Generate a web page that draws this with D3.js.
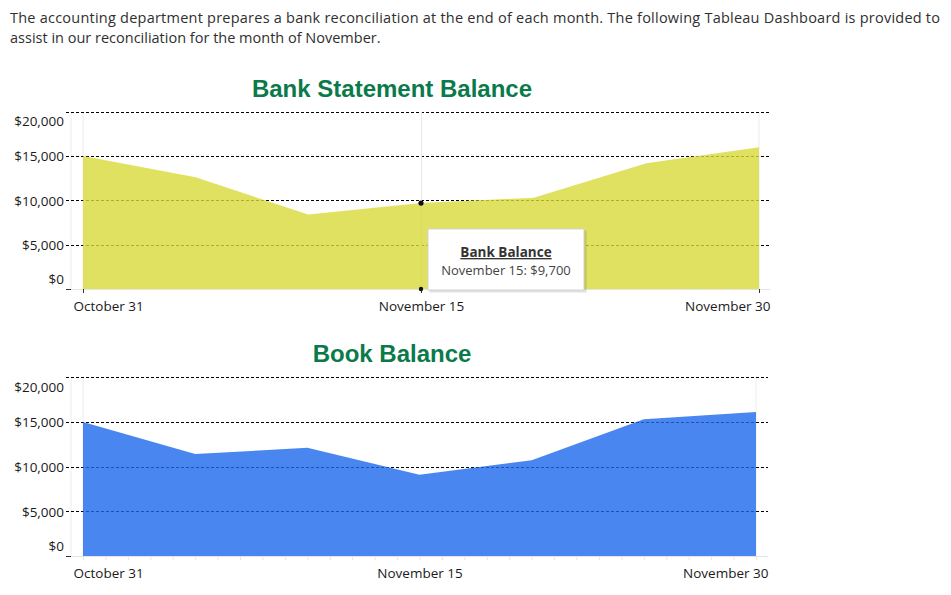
<!DOCTYPE html>
<html>
<head>
<meta charset="utf-8">
<script src="https://cdn.jsdelivr.net/npm/d3@7"></script>
<style>
  body { margin: 0; background: #fff; }
  .intro { font-family: "Open Sans", sans-serif; font-size: 14.5px; fill: #2f2f2f; }
  .title { font-family: "Liberation Sans", Arial, sans-serif; font-weight: bold; font-size: 24px; fill: #0b7a4b; }
  .tick text { font-family: "Open Sans", sans-serif; font-size: 13.5px; fill: #1a1a1a; }
</style>
</head>
<body>
<svg id="dash" width="951" height="595"></svg>
<script>
// dates in the month (every 5 days)
var dates = ["2018-10-31", "2018-11-05", "2018-11-10", "2018-11-15", "2018-11-20", "2018-11-25", "2018-11-30"];
var bankBalance = [15000, 12600, 8400, 9700, 10300, 14200, 16000];
var bookBalance = [15000, 11400, 12100, 9100, 10700, 15300, 16100];
var yTicks = [0, 5000, 10000, 15000, 20000];
var xTickDates = ["2018-10-31", "2018-11-15", "2018-11-30"];
var hoverDate = "2018-11-15";

var parse = d3.timeParse("%Y-%m-%d");
var svg = d3.select("#dash");

// intro paragraph
svg.append("text").attr("class", "intro").attr("x", 10).attr("y", 23)
  .attr("textLength", 930).attr("lengthAdjust", "spacing")
  .text("The accounting department prepares a bank reconciliation at the end of each month. The following Tableau Dashboard is provided to");
svg.append("text").attr("class", "intro").attr("x", 10).attr("y", 43)
  .text("assist in our reconciliation for the month of November.");

function drawChart(opt) {
  var data = dates.map(function(d, i) { return { date: parse(d), value: opt.values[i] }; });
  var x = d3.scaleTime().domain([parse(dates[0]), parse(dates[dates.length - 1])]).range([83, opt.right]);
  var y = d3.scaleLinear().domain([0, 20000]).range([opt.bottom, opt.bottom - 4 * opt.step]);
  var g = svg.append("g");

  g.append("text").attr("class", "title").attr("x", 392).attr("y", opt.titleY)
    .attr("text-anchor", "middle").text(opt.title);

  // faint frame lines
  g.append("line").attr("x1", 71).attr("x2", 71).attr("y1", y(20000)).attr("y2", opt.bottom)
    .attr("stroke", "#ececec");
  [x.range()[0], x.range()[1]].forEach(function(px) {
    g.append("line").attr("x1", px).attr("x2", px).attr("y1", y(20000)).attr("y2", opt.bottom)
      .attr("stroke", "#ececec");
  });
  g.append("line").attr("x1", 66).attr("x2", opt.gridEnd).attr("y1", opt.bottom + 0.5).attr("y2", opt.bottom + 0.5)
    .attr("stroke", "#e4e4e4");

  // dashed gridlines (under the area)
  g.selectAll(".grid").data(yTicks.slice(1)).join("line")
    .attr("x1", 66).attr("x2", opt.gridEnd)
    .attr("y1", function(d) { return Math.round(y(d)) + 0.5; })
    .attr("y2", function(d) { return Math.round(y(d)) + 0.5; })
    .attr("stroke", "#000").attr("stroke-dasharray", "3,2");

  if (opt.hover) {
    g.append("line").attr("x1", x(parse(hoverDate)) + 0.5).attr("x2", x(parse(hoverDate)) + 0.5)
      .attr("y1", y(20000)).attr("y2", opt.bottom).attr("stroke", "#e8e8e8");
  }

  var area = d3.area().x(function(d) { return x(d.date); })
    .y0(y(0)).y1(function(d) { return y(d.value); });
  g.append("path").datum(data).attr("d", area)
    .attr("fill", opt.fill).attr("fill-opacity", 0.8);

  // y axis labels
  var yAxis = d3.axisLeft(y).tickValues(yTicks).tickSize(0).tickPadding(0)
    .tickFormat(function(d) { return "$" + d3.format(",")(d); });
  var ya = g.append("g").attr("transform", "translate(64,0)").call(yAxis);
  ya.select(".domain").remove();
  ya.selectAll(".tick text").attr("dy", function(d) {
    return d === 20000 ? "1.05em" : d === 0 ? "-0.4em" : "0.35em";
  });
  // little tick for $0
  g.append("line").attr("x1", 66).attr("x2", 71).attr("y1", opt.bottom + 0.5).attr("y2", opt.bottom + 0.5)
    .attr("stroke", "#333");

  // x axis
  if (opt.minorTicks) {
    var minor = d3.axisBottom(x).ticks(d3.timeDay.every(1)).tickSize(4).tickFormat("");
    var mi = g.append("g").attr("transform", "translate(0," + opt.bottom + ")").call(minor);
    mi.select(".domain").remove();
    mi.selectAll(".tick line").attr("stroke", "#e6e6e6");
  }
  var xAxis = d3.axisBottom(x).tickValues(xTickDates.map(parse))
    .tickSize(opt.minorTicks ? 0 : 4).tickPadding(opt.minorTicks ? 12 : 8)
    .tickFormat(d3.timeFormat("%B %-d"));
  var xa = g.append("g").attr("transform", "translate(0," + opt.bottom + ")").call(xAxis);
  xa.select(".domain").remove();
  xa.selectAll(".tick line").attr("stroke", "#333");
  xa.selectAll(".tick text").each(function(d, i) {
    var t = d3.select(this);
    if (i === 0) t.attr("text-anchor", "start").attr("dx", -10);
    if (i === 2) t.attr("text-anchor", "end").attr("dx", opt.gridEnd - opt.right);
  });

  if (opt.hover) {
    var hd = parse(hoverDate);
    var hv = opt.values[dates.indexOf(hoverDate)];
    g.append("circle").attr("cx", x(hd)).attr("cy", y(hv)).attr("r", 2.6).attr("fill", "#111");
    g.append("circle").attr("cx", x(hd)).attr("cy", y(0)).attr("r", 2.2).attr("fill", "#111");
    var tip = g.append("g").attr("transform", "translate(428,229)");
    tip.append("rect").attr("x", 1.5).attr("y", 1.5).attr("width", 157).attr("height", 62)
      .attr("fill", "#000").attr("opacity", 0.12);
    tip.append("rect").attr("width", 156).attr("height", 61).attr("fill", "#fff").attr("stroke", "#d4d4d4");
    tip.append("text").attr("x", 78).attr("y", 28).attr("text-anchor", "middle")
      .style("font-family", "Open Sans, sans-serif").style("font-size", "13.5px").style("font-weight", "bold")
      .style("text-decoration", "underline").attr("fill", "#333").text(opt.tipTitle);
    tip.append("text").attr("x", 78).attr("y", 46).attr("text-anchor", "middle")
      .style("font-family", "Open Sans, sans-serif").style("font-size", "13px").attr("fill", "#444")
      .text(d3.timeFormat("%B %-d")(hd) + ": $" + d3.format(",")(hv));
  }
}

drawChart({ title: "Bank Statement Balance", titleY: 97, values: bankBalance, fill: "#d9d93a",
  bottom: 289, step: 44.3, right: 759, gridEnd: 770, hover: true, tipTitle: "Bank Balance", minorTicks: false });
drawChart({ title: "Book Balance", titleY: 362, values: bookBalance, fill: "#1d68ec",
  bottom: 556, step: 44.7, right: 756, gridEnd: 768, hover: false, minorTicks: true });
</script>
</body>
</html>
